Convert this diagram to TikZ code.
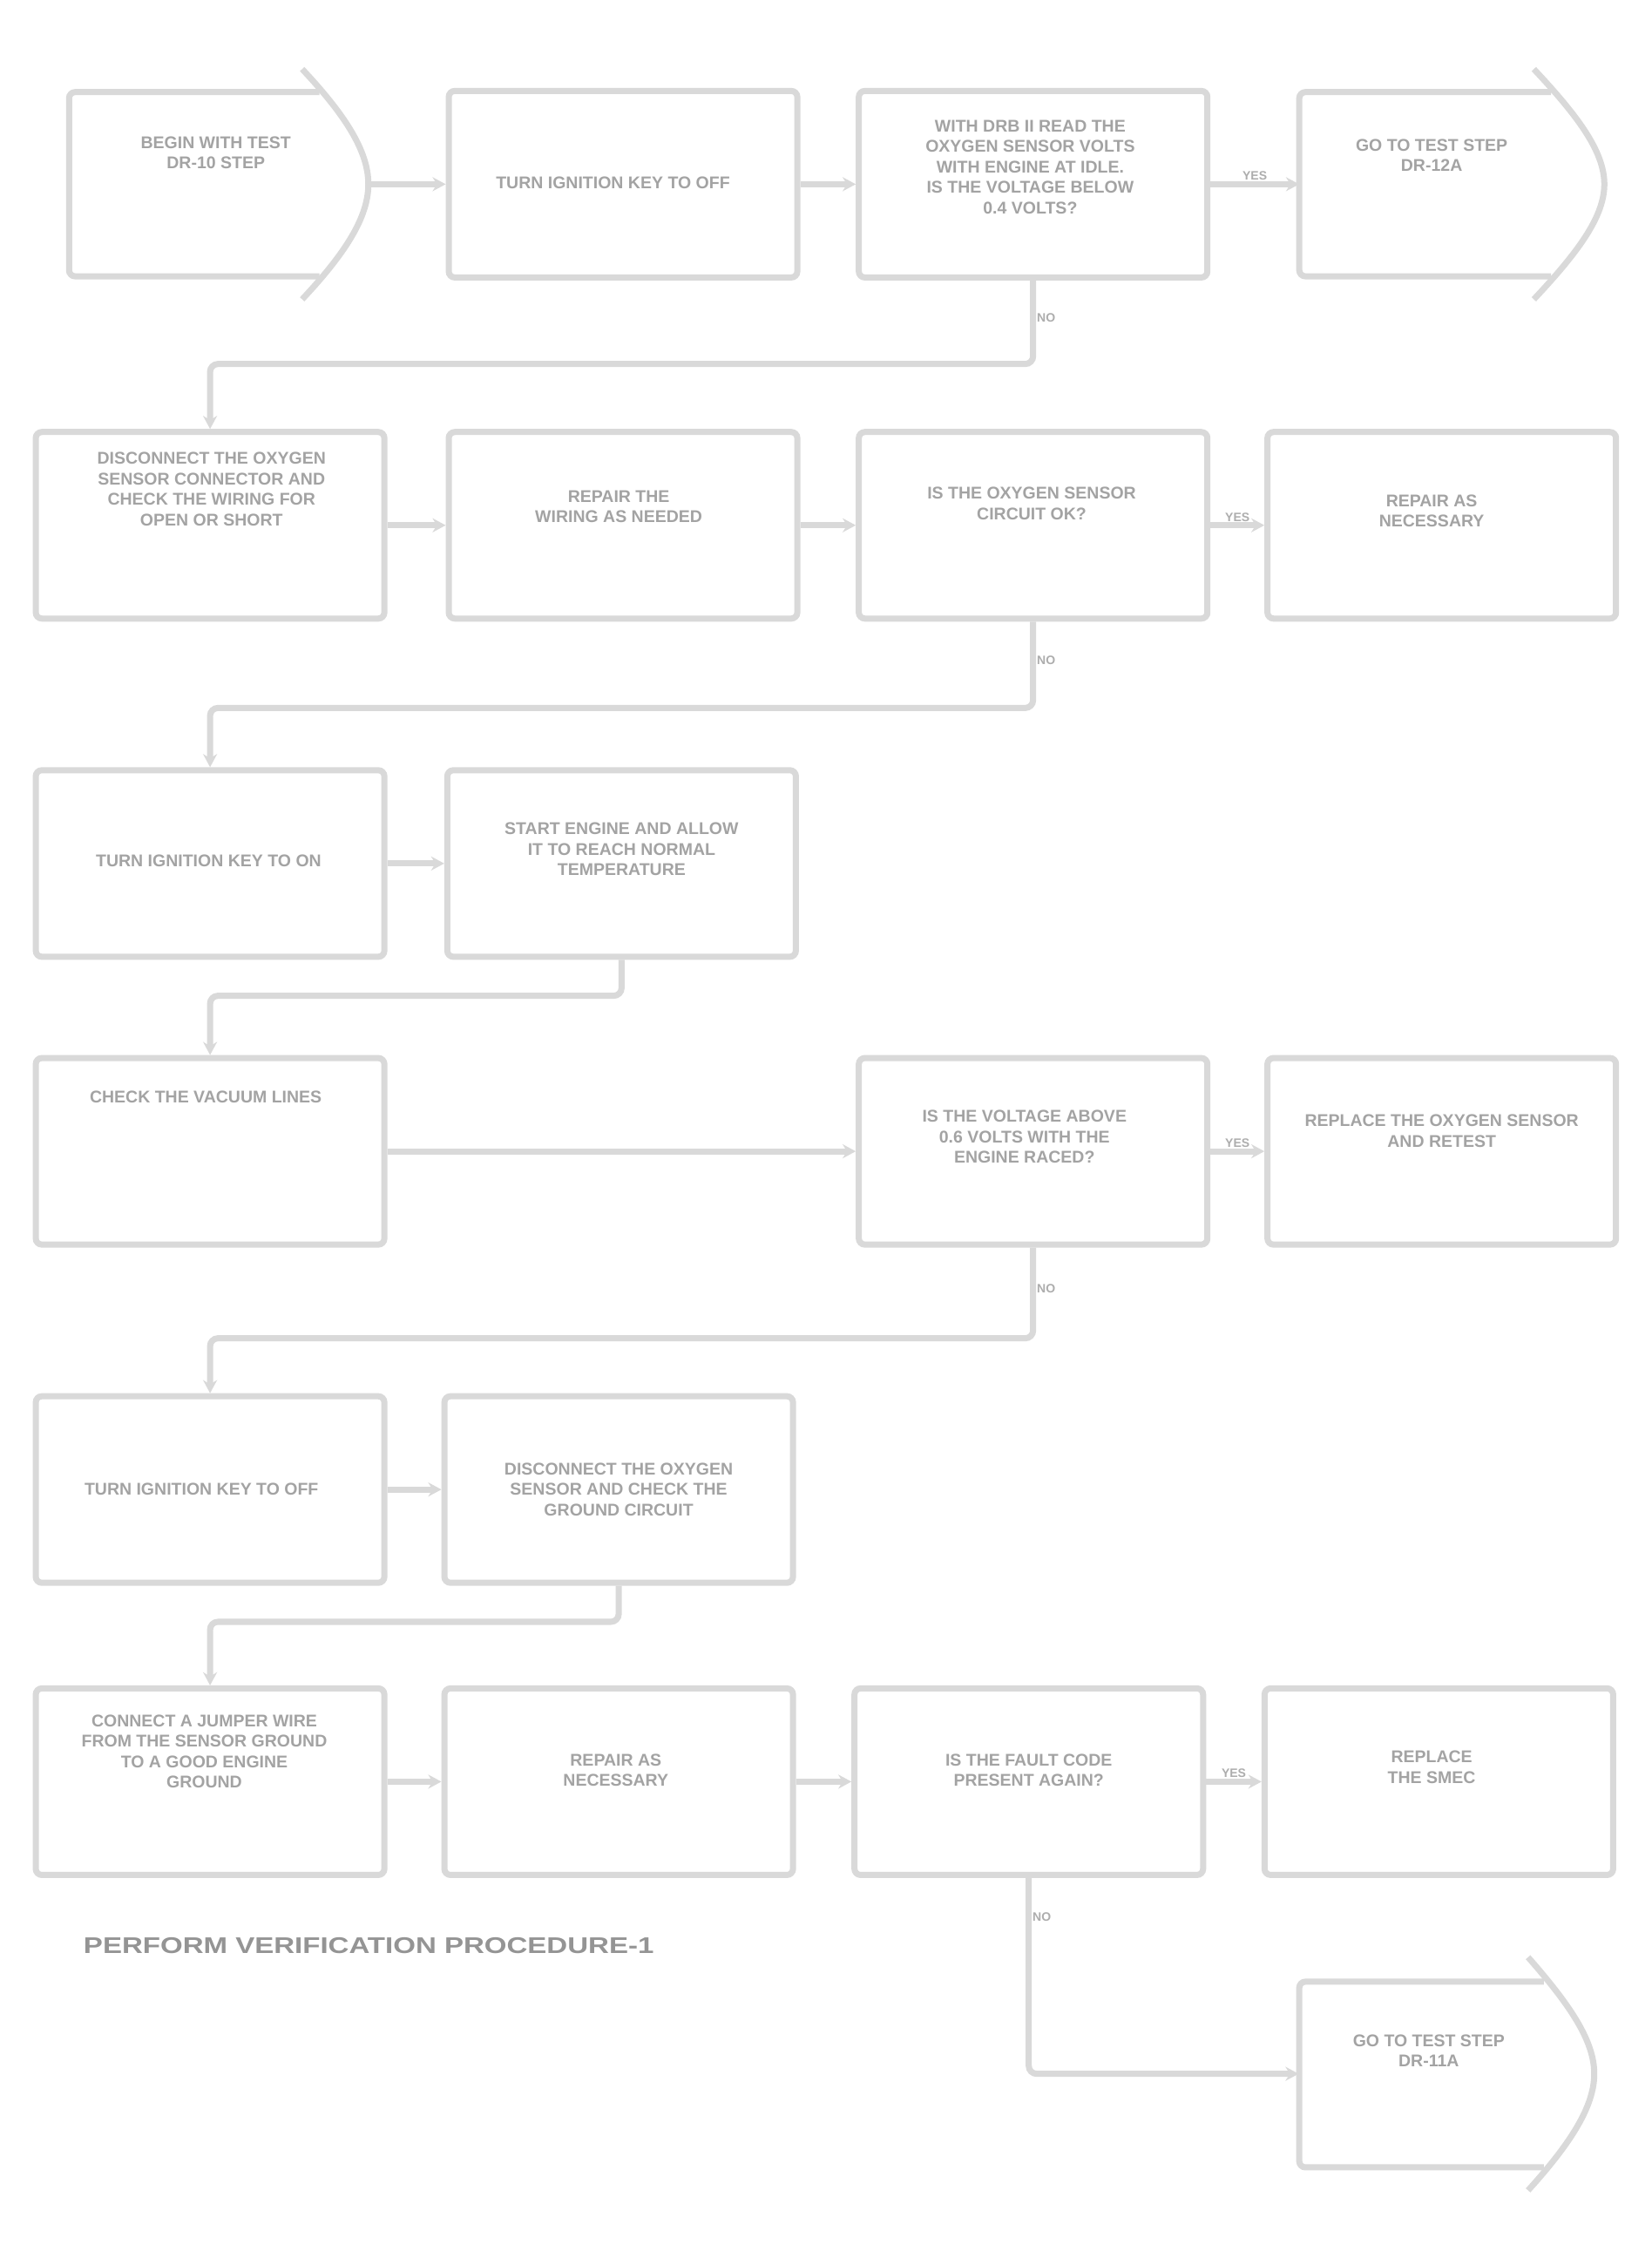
\documentclass[tikz,border=0pt]{standalone}
\usepackage{fontspec}
\setmainfont{Liberation Sans}
\usetikzlibrary{arrows.meta,calc}
\tikzset{
  ln/.style={draw=black!15, line width=7pt},
  stepbox/.style={ln, rounded corners=7pt, minimum width=400pt, minimum height=214pt, inner sep=0pt},
  ghost/.style={draw=none, inner sep=0pt, minimum height=212pt},
  txt/.style={text=black!36, font=\fontsize{19.5}{23.5}\selectfont\bfseries, align=center, inner sep=0pt},
  conn/.style={ln, rounded corners=9pt, -{Stealth[length=15pt,width=16pt]}},
  lab/.style={text=black!32, font=\fontsize{14}{16}\selectfont\bfseries, inner sep=1pt}
}
\begin{document}
\begin{tikzpicture}[x=1.651pt,y=-1.651pt]
\useasboundingbox (0,0) rectangle (1148,1569);
\fill[white] (0,0) rectangle (1148,1569);

% ---------- off-page connector outlines ----------
\draw[ln, rounded corners=7pt] (222,64) -- (48,64) -- (48,192) -- (222,192);
\draw[ln] (210,48) .. controls (240,80) and (256,105) .. (256,128) .. controls (256,151) and (240,176) .. (210,208);
\draw[ln, rounded corners=7pt] (1078,64) -- (903,64) -- (903,192) -- (1078,192);
\draw[ln] (1066,48) .. controls (1096,80) and (1115,105) .. (1115,128) .. controls (1115,151) and (1096,176) .. (1066,208);
\draw[ln, rounded corners=7pt] (1073,1377) -- (903,1377) -- (903,1506) -- (1073,1506);
\draw[ln] (1062,1360) .. controls (1091,1393) and (1108,1418) .. (1108,1441) .. controls (1108,1464) and (1091,1490) .. (1062,1522);

% ---------- nodes ----------
\node[ghost, minimum width=343pt] (A) at (152,128) {};
\node[stepbox] (B) at (433,128) {};
\node[stepbox] (C) at (718,128) {};
\node[ghost, minimum width=350pt] (D) at (1009,128) {};

\node[stepbox] (E) at (146,365) {};
\node[stepbox] (F) at (433,365) {};
\node[stepbox] (G) at (718,365) {};
\node[stepbox] (H) at (1002,365) {};

\node[stepbox] (I) at (146,600) {};
\node[stepbox] (J) at (432,600) {};

\node[stepbox] (K) at (146,800) {};
\node[stepbox] (L) at (718,800) {};
\node[stepbox] (M) at (1002,800) {};

\node[stepbox] (N) at (146,1035) {};
\node[stepbox] (O) at (430,1035) {};

\node[stepbox] (P) at (146,1238) {};
\node[stepbox] (Q) at (430,1238) {};
\node[stepbox] (R) at (715,1238) {};
\node[stepbox] (S) at (1000,1238) {};

\node[ghost, minimum width=338pt, minimum height=213pt] (T) at (1005,1441) {};

% ---------- texts ----------
\node[txt] (At) at (150,106) {BEGIN WITH TEST\\DR-10 STEP};
\node[txt] (Bt) at (426,127) {TURN IGNITION KEY TO OFF};
\node[txt] (Ct) at (716,116) {WITH DRB II READ THE\\OXYGEN SENSOR VOLTS\\WITH ENGINE AT IDLE.\\IS THE VOLTAGE BELOW\\0.4 VOLTS?};
\node[txt] (Dt) at (995,108) {GO TO TEST STEP\\DR-12A};
\node[txt] (Et) at (147,340) {DISCONNECT THE OXYGEN\\SENSOR CONNECTOR AND\\CHECK THE WIRING FOR\\OPEN OR SHORT};
\node[txt] (Ft) at (430,352) {REPAIR THE\\WIRING AS NEEDED};
\node[txt] (Gt) at (717,350) {IS THE OXYGEN SENSOR\\CIRCUIT OK?};
\node[txt] (Ht) at (995,355) {REPAIR AS\\NECESSARY};
\node[txt] (It) at (145,598) {TURN IGNITION KEY TO ON};
\node[txt] (Jt) at (432,590) {START ENGINE AND ALLOW\\IT TO REACH NORMAL\\TEMPERATURE};
\node[txt] (Kt) at (143,762) {CHECK THE VACUUM LINES};
\node[txt] (Lt) at (712,790) {IS THE VOLTAGE ABOVE\\0.6 VOLTS WITH THE\\ENGINE RACED?};
\node[txt] (Mt) at (1002,786) {REPLACE THE OXYGEN SENSOR\\AND RETEST};
\node[txt] (Nt) at (140,1035) {TURN IGNITION KEY TO OFF};
\node[txt] (Ot) at (430,1035) {DISCONNECT THE OXYGEN\\SENSOR AND CHECK THE\\GROUND CIRCUIT};
\node[txt] (Pt) at (142,1217) {CONNECT A JUMPER WIRE\\FROM THE SENSOR GROUND\\TO A GOOD ENGINE\\GROUND};
\node[txt] (Qt) at (428,1230) {REPAIR AS\\NECESSARY};
\node[txt] (Rt) at (715,1230) {IS THE FAULT CODE\\PRESENT AGAIN?};
\node[txt] (St) at (995,1228) {REPLACE\\THE SMEC};
\node[txt] (Tt) at (993,1425) {GO TO TEST STEP\\DR-11A};

\node[txt, anchor=west, font=\fontsize{26}{30}\selectfont\bfseries, text=black!42] (note) at (58,1352) {\scalebox{1.27}[1]{PERFORM VERIFICATION PROCEDURE-1}};

% ---------- connectors ----------
\draw[conn] (A.east) -- (B.west);
\draw[conn] (B.east) -- (C.west);
\draw[conn] (C.east) -- node[lab, above] (l1) {YES} (D.west);
\draw[conn] (C.south) -- node[lab, right, pos=0.45] (l2) {NO} ++(0,58) -| (E.north);

\draw[conn] (E.east) -- (F.west);
\draw[conn] (F.east) -- (G.west);
\draw[conn] (G.east) -- node[lab, above] (l3) {YES} (H.west);
\draw[conn] (G.south) -- node[lab, right, pos=0.45] (l4) {NO} ++(0,60) -| (I.north);

\draw[conn] (I.east) -- (J.west);
\draw[conn] (J.south) -- ++(0,25) -| (K.north);

\draw[conn] (K.east) -- (L.west);
\draw[conn] (L.east) -- node[lab, above] (l5) {YES} (M.west);
\draw[conn] (L.south) -- node[lab, right, pos=0.45] (l6) {NO} ++(0,63) -| (N.north);

\draw[conn] (N.east) -- (O.west);
\draw[conn] (O.south) -- ++(0,25) -| (P.north);

\draw[conn] (P.east) -- (Q.west);
\draw[conn] (Q.east) -- (R.west);
\draw[conn] (R.east) -- node[lab, above] (l7) {YES} (S.west);
\draw[conn] (R.south) -- node[lab, right, pos=0.2] (l8) {NO} (R.south |- T.west) -- (T.west);
\end{tikzpicture}
\end{document}
